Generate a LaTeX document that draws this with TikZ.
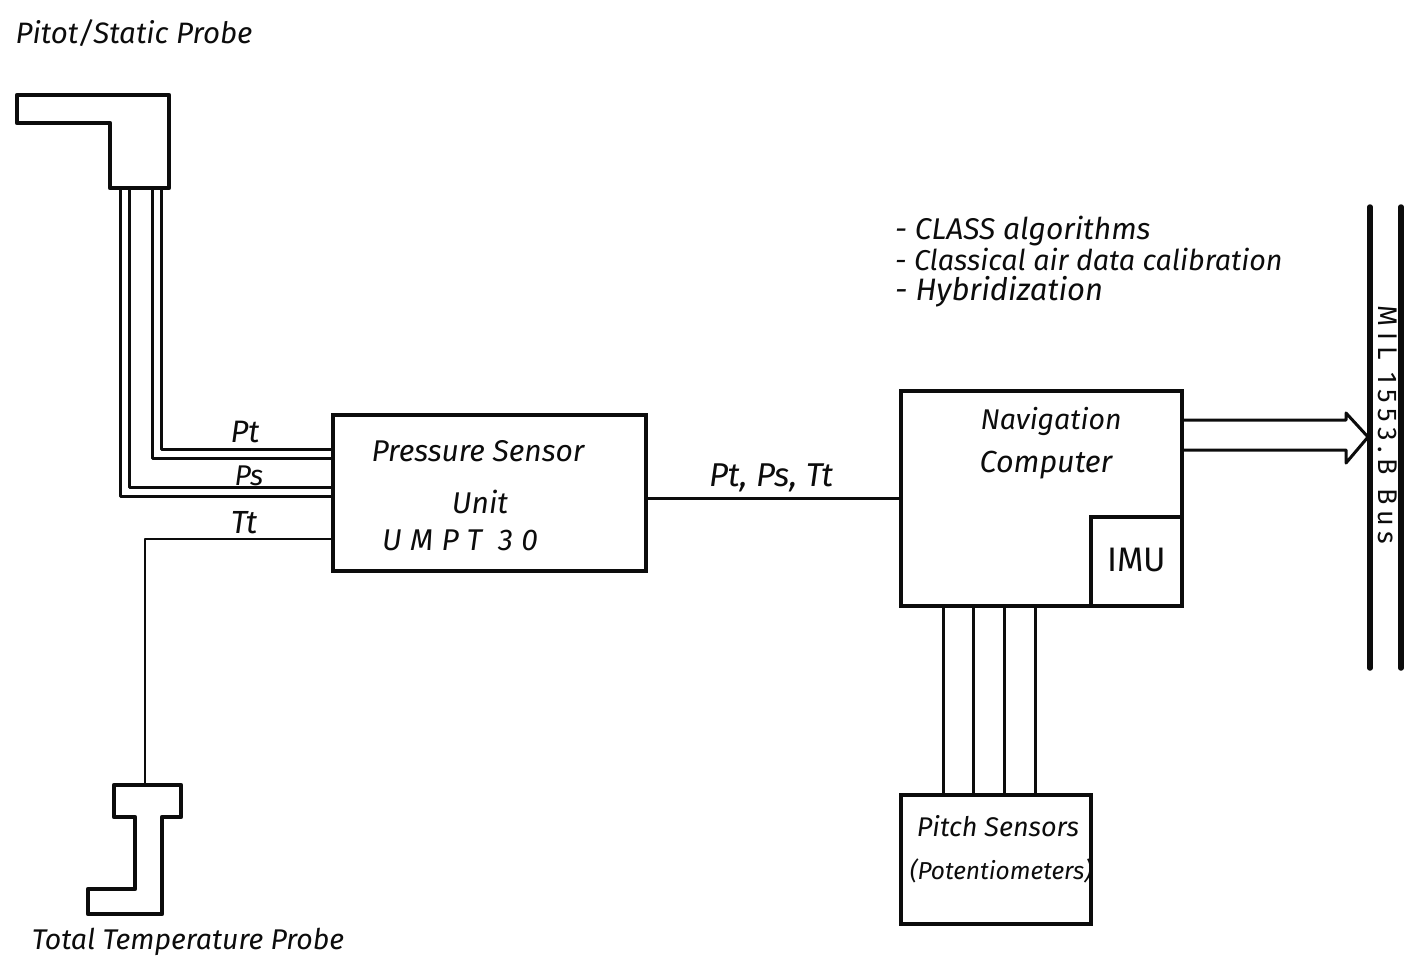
\documentclass[tikz,border=0pt]{standalone}
\usepackage{fontspec}
\usepackage{xcolor}
\setsansfont{Fira Sans}
\usetikzlibrary{positioning}
\definecolor{ScanInk}{HTML}{0C0C0C}
\tikzset{
  unitbox/.style={draw=ScanInk,line width=3.8pt,rectangle,outer sep=0pt,inner sep=0pt},
  probeline/.style={draw=ScanInk,line width=4.2pt,line join=round},
  pipeline/.style={draw=ScanInk,line width=3pt,line join=round},
  wireline/.style={draw=ScanInk,line width=2.4pt,line join=round},
  arrowline/.style={draw=ScanInk,line width=3pt,line join=round},
  busline/.style={draw=ScanInk,line width=5.5pt,line cap=round},
  handtext/.style={text=ScanInk,inner sep=0pt,font=\sffamily\itshape\fontsize{#1}{#1}\selectfont},
  handtext/.default=28,
  plaintext/.style={text=ScanInk,inner sep=0pt,font=\sffamily\fontsize{#1}{#1}\selectfont}
}
\begin{document}
\begin{tikzpicture}[x=1pt,y=-1pt]
  \useasboundingbox (0,0) rectangle (1408,966);

  % probes
  \draw[probeline] (17,95) -- (169,95) -- (169,188) -- (110,188)
    -- (110,123) -- (17,123) -- cycle;
  \draw[probeline] (114,785) -- (181,785) -- (181,817) -- (162,817)
    -- (162,914) -- (88,914) -- (88,889) -- (135,889) -- (135,817)
    -- (114,817) -- cycle;
  \coordinate (pipeA) at (120,188);
  \coordinate (pipeB) at (129,188);
  \coordinate (pipeC) at (152,188);
  \coordinate (pipeD) at (161,188);
  \coordinate (tempOut) at (145,785);

  % boxes
  \node[unitbox,minimum width=313pt,minimum height=156pt] (sensor) at (489.5,493) {};
  \node[unitbox,minimum width=281pt,minimum height=215pt] (nav) at (1041.5,498.5) {};
  \node[unitbox,minimum width=91pt,minimum height=89pt,
    plaintext=34] (imu) at (1136.5,561.5) {\raisebox{4pt}{IMU}};
  \node[unitbox,minimum width=190pt,minimum height=129pt] (pitch) at (996,859.5) {};

  \coordinate (portPtA) at (333,449);
  \coordinate (portPtB) at (333,458);
  \coordinate (portPsA) at (333,487);
  \coordinate (portPsB) at (333,496);
  \coordinate (portTt) at (333,539);

  % pipes from the probes
  \draw[pipeline] (pipeD) |- (portPtA);
  \draw[pipeline] (pipeC) |- (portPtB);
  \draw[pipeline] (pipeB) |- (portPsA);
  \draw[pipeline] (pipeA) |- (portPsB);
  \draw[wireline] (tempOut) |- (portTt);
  \draw[wireline] (sensor.east |- nav.west) -- (nav.west);

  % wires to the pitch sensors
  \coordinate (navA) at (943,606);
  \coordinate (navB) at (973,606);
  \coordinate (navC) at (1004,606);
  \coordinate (navD) at (1035,606);
  \draw[pipeline] (navA) -- (navA |- pitch.north);
  \draw[pipeline] (navB) -- (navB |- pitch.north);
  \draw[pipeline] (navC) -- (navC |- pitch.north);
  \draw[pipeline] (navD) -- (navD |- pitch.north);

  % bus and its block arrow
  \coordinate (busTopA) at (1370,207);
  \coordinate (busEndA) at (1370,668);
  \coordinate (busTopB) at (1401,207);
  \coordinate (busEndB) at (1401,668);
  \draw[busline] (busTopA) -- (busEndA);
  \draw[busline] (busTopB) -- (busEndB);
  \coordinate (outTop) at (1182,420);
  \coordinate (outLow) at (1182,450);
  \coordinate (busTip) at (1368,437);
  \draw[arrowline] (outTop) -- (1346,420) -- (1346,413) -- (busTip)
    -- (1346,463) -- (1346,450) -- (outLow);

  % labels
  \node[handtext=29.5] (pitotLabel) at (134,33) {Pitot/Static Probe};
  \node[handtext=28.5] (tempLabel) at (188,942) {Total Temperature Probe};
  \node[handtext=31] (ptLabel) at (245,432) {Pt};
  \node[handtext=28.5] (psLabel) at (249,476) {Ps};
  \node[handtext=32] (ttLabel) at (244,523) {Tt};
  \node[handtext=33] (linkLabel) at (771,478) {Pt, Ps, Tt};
  \node[handtext=30] (pressLabel) at (478,451) {Pressure Sensor};
  \node[handtext=30] (unitLabel) at (480,502) {Unit};
  \node[handtext=30] (umptLabel) at (460,540) {\addfontfeature{LetterSpace=28}UMPT 30};
  \node[handtext=28.5] (navLabel) at (1051,421) {Navigation};
  \node[handtext=30.5] (compLabel) at (1046,465) {Computer};
  \node[handtext=27] (pitchLabel) at (998,826) {Pitch Sensors};
  \node[handtext=24.5] (potLabel) at (1001,871) {(Potentiometers)};
  \node[handtext=30,anchor=west] (classLabel) at (895,231) {- CLASS algorithms};
  \node[handtext=28.7,anchor=west] (calLabel) at (895,259) {- Classical air data calibration};
  \node[handtext=31,anchor=west] (hybLabel) at (895,292) {- Hybridization};
  \node[plaintext=27,rotate=-90] (busLabel) at (1388,425) {\addfontfeature{LetterSpace=21}MIL 1553.B Bus};
\end{tikzpicture}
\end{document}
